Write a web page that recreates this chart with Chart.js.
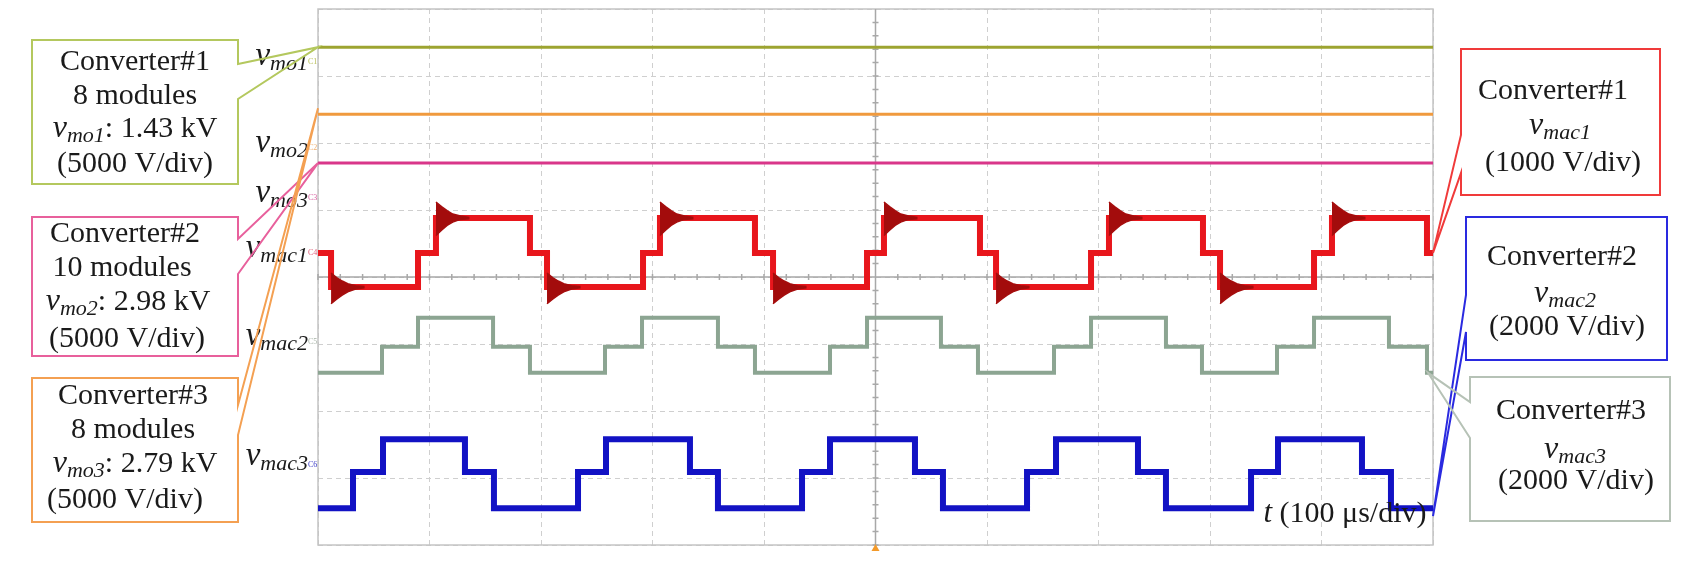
<!DOCTYPE html>
<html>
<head>
<meta charset="utf-8">
<script src="https://cdn.jsdelivr.net/npm/chart.js@4.4.0/dist/chart.umd.min.js"></script>
<style>
  html, body { margin: 0; padding: 0; background: #fff; }
  #wrap { width: 1700px; height: 566px; }
</style>
</head>
<body>
<div id="wrap"><canvas id="scope" width="1700" height="566"></canvas></div>
<script>
// time in µs (100 µs/div), vertical position in screen divisions (8 div, centre = 0)
const timeRange = [0, 1000];
const divRange = [-4, 4];

// dc-link module voltages: flat traces
const dcNames = ["vmo1", "vmo2", "vmo3"];
const dcLevels = [3.43, 2.43, 1.70];

// vmac1 (red): switching instants and level after each one (first value = level at t=0)
const mac1Edges = [11.7, 89.7, 105.8, 190.1, 205.4, 291.5, 306.7, 391.9, 408.1, 492.4,
  507.6, 593.7, 608.1, 693.3, 709.4, 793.7, 809.0, 893.3, 909.4, 994.6];
const mac1Values = [0.36, -0.15, 0.36, 0.88, 0.36, -0.15, 0.36, 0.88, 0.36, -0.15, 0.36,
  0.88, 0.36, -0.15, 0.36, 0.88, 0.36, -0.15, 0.36, 0.88, 0.36];

// vmac2 (grey-green)
const mac2Edges = [57.4, 89.7, 157.0, 190.1, 257.4, 290.6, 358.7, 391.9, 459.2, 492.4,
  558.7, 591.9, 660.1, 693.3, 760.5, 792.8, 860.1, 893.3, 960.5, 994.6];
const mac2Values = [-1.43, -1.04, -0.61, -1.04, -1.43, -1.04, -0.61, -1.04, -1.43, -1.04, -0.61,
  -1.04, -1.43, -1.04, -0.61, -1.04, -1.43, -1.04, -0.61, -1.04, -1.43];

// vmac3 (blue)
const mac3Edges = [31.4, 58.3, 131.8, 157.8, 233.2, 258.3, 333.6, 358.7, 434.1, 459.2,
  535.4, 560.5, 635.9, 661.9, 735.4, 760.5, 836.8, 861.0, 936.3, 962.3];
const mac3Values = [-3.45, -2.91, -2.42, -2.91, -3.45, -2.91, -2.42, -2.91, -3.45, -2.91, -2.42,
  -2.91, -3.45, -2.91, -2.42, -2.91, -3.45, -2.91, -2.42, -2.91, -3.45];

// ringing on vmac1 after steps to the top / bottom level
const ringRiseTimes = [105.8, 306.7, 507.6, 709.4, 909.4];
const ringFallTimes = [11.7, 205.4, 408.1, 608.1, 809.0];
const ringOffsets = [0, 5, 10, 15, 22, 30];
const riseRingTop = [1.12, 1.05, 0.99, 0.94, 0.91, 0.89];
const riseRingBottom = [0.62, 0.70, 0.77, 0.82, 0.86, 0.87];
const fallRingTop = [0.06, -0.01, -0.06, -0.10, -0.13, -0.14];
const fallRingBottom = [-0.40, -0.33, -0.27, -0.22, -0.18, -0.16];

const SERIF = '"Liberation Serif", "DejaVu Serif", serif';

function stepPoints(edges, values) {
  const pts = [{ x: timeRange[0], y: values[0] }];
  edges.forEach((t, i) => pts.push({ x: t, y: values[i + 1] }));
  pts.push({ x: timeRange[1], y: values[values.length - 1] });
  return pts;
}

function ringSets(times, top, bottom) {
  const sets = [];
  times.forEach((t) => {
    const upper = ringOffsets.map((o, i) => ({ x: t + o, y: top[i] }));
    const lower = ringOffsets.map((o, i) => ({ x: t + o, y: bottom[i] }));
    sets.push({ data: upper, borderColor: "#a50d0d", borderWidth: 1.5, pointRadius: 0, fill: false });
    sets.push({ data: lower, borderColor: "#a50d0d", borderWidth: 1.5, pointRadius: 0,
      fill: "-1", backgroundColor: "#a30c0c" });
  });
  return sets;
}

const dcColors = ["#9da431", "#f09a3e", "#d9368a"];

const datasets = [
  ...ringSets(ringRiseTimes, riseRingTop, riseRingBottom),
  ...ringSets(ringFallTimes, fallRingTop, fallRingBottom),
  { data: stepPoints(mac1Edges, mac1Values), stepped: "before", borderColor: "#e8161c", borderWidth: 6, pointRadius: 0 },
  { data: stepPoints(mac2Edges, mac2Values), stepped: "before", borderColor: "#8ca592", borderWidth: 4, pointRadius: 0 },
  { data: stepPoints(mac3Edges, mac3Values), stepped: "before", borderColor: "#1212c4", borderWidth: 6, pointRadius: 0 },
  ...dcLevels.map((lv, i) => ({
    label: dcNames[i],
    data: [{ x: timeRange[0], y: lv }, { x: timeRange[1], y: lv }],
    borderColor: dcColors[i], borderWidth: 3, pointRadius: 0,
  })),
];

function drawRuns(ctx, runs, cx, cy, align) {
  let total = 0;
  runs.forEach((r) => { ctx.font = r[1]; total += ctx.measureText(r[0]).width; });
  let x = align === "right" ? cx - total : cx - total / 2;
  ctx.textBaseline = "middle";
  ctx.textAlign = "left";
  runs.forEach((r) => {
    ctx.font = r[1];
    ctx.fillText(r[0], x, cy + (r[2] || 0));
    x += ctx.measureText(r[0]).width;
  });
}

function vSym(sub, size) {
  return [["v", "italic " + size + "px " + SERIF, 0], [sub, "italic " + Math.round(size * 0.68) + "px " + SERIF, size * 0.24]];
}

function callout(ctx, b) {
  ctx.save();
  ctx.fillStyle = "#fff";
  ctx.fillRect(b.x0, b.y0, b.x1 - b.x0, b.y1 - b.y0);
  ctx.strokeStyle = b.color;
  ctx.lineWidth = 2;
  ctx.beginPath();
  if (b.side === "right") {
    ctx.moveTo(b.x0, b.y0); ctx.lineTo(b.x1, b.y0); ctx.lineTo(b.x1, b.g0);
    ctx.lineTo(b.tip[0], b.tip[1]); ctx.lineTo(b.x1, b.g1); ctx.lineTo(b.x1, b.y1); ctx.lineTo(b.x0, b.y1);
  } else {
    ctx.moveTo(b.x0, b.y0); ctx.lineTo(b.x1, b.y0); ctx.lineTo(b.x1, b.y1); ctx.lineTo(b.x0, b.y1);
    ctx.lineTo(b.x0, b.g1); ctx.lineTo(b.tip[0], b.tip[1]); ctx.lineTo(b.x0, b.g0);
  }
  ctx.closePath();
  ctx.stroke();
  ctx.fillStyle = "#1a1a1a";
  b.lines.forEach((ln) => drawRuns(ctx, ln.runs, ln.x, ln.y));
  ctx.restore();
}

const scopeDecor = {
  id: "scopeDecor",
  beforeDatasetsDraw(chart) {
    const { ctx, chartArea: a, scales: { x, y } } = chart;
    ctx.save();
    ctx.strokeStyle = "#c4c4c4";
    ctx.lineWidth = 1.5;
    ctx.strokeRect(a.left, a.top, a.right - a.left, a.bottom - a.top);
    // centre cross with minor ticks
    const cx = x.getPixelForValue(500), cy = y.getPixelForValue(0);
    ctx.strokeStyle = "#a8a8a8";
    ctx.lineWidth = 1.5;
    ctx.beginPath();
    ctx.moveTo(cx, a.top); ctx.lineTo(cx, a.bottom);
    ctx.moveTo(a.left, cy); ctx.lineTo(a.right, cy);
    for (let t = 0; t <= 1000; t += 20) {
      const px = x.getPixelForValue(t);
      ctx.moveTo(px, cy - 3); ctx.lineTo(px, cy + 3);
    }
    for (let d = -4; d <= 4; d += 0.2) {
      const py = y.getPixelForValue(d);
      ctx.moveTo(cx - 3, py); ctx.lineTo(cx + 3, py);
    }
    ctx.stroke();
    ctx.restore();
  },
  afterDraw(chart) {
    const { ctx, chartArea: a, scales: { x, y } } = chart;
    ctx.save();
    // trigger marker
    const tx = x.getPixelForValue(500);
    ctx.fillStyle = "#f39a2a";
    ctx.beginPath();
    ctx.moveTo(tx, a.bottom - 1); ctx.lineTo(tx - 4, a.bottom + 6); ctx.lineTo(tx + 4, a.bottom + 6);
    ctx.closePath(); ctx.fill();

    // trace names on the left of the screen
    ctx.fillStyle = "#1a1a1a";
    const names = [["mo1", 56], ["mo2", 143], ["mo3", 193], ["mac1", 248], ["mac2", 336], ["mac3", 456]];
    names.forEach((n) => drawRuns(ctx, vSym(n[0], 33), a.left - 10, n[1], "right"));
    const marks = [["C1", 62, "#b9c05a"], ["C2", 148, "#f0b070"], ["C3", 198, "#d860a0"],
      ["C4", 253, "#e0607a"], ["C5", 342, "#a8b4a8"], ["C6", 465, "#4040c8"]];
    ctx.font = "8px " + SERIF;
    marks.forEach((m) => { ctx.fillStyle = m[2]; ctx.fillText(m[0], a.left - 10, m[1]); });

    const lft = a.left, rgt = a.right;
    const body = "30px " + SERIF;
    callout(ctx, { side: "right", x0: 32, x1: 238, y0: 40, y1: 184, g0: 64, g1: 99,
      tip: [lft, y.getPixelForValue(dcLevels[0])], color: "#b4c85e",
      lines: [
        { runs: [["Converter#1", body]], x: 135, y: 62 },
        { runs: [["8 modules", body]], x: 135, y: 96 },
        { runs: [...vSym("mo1", 32), [": 1.43 kV", body]], x: 135, y: 129 },
        { runs: [["(5000 V/div)", body]], x: 135, y: 164 },
      ] });
    callout(ctx, { side: "right", x0: 32, x1: 238, y0: 217, y1: 356, g0: 239, g1: 274,
      tip: [lft, y.getPixelForValue(dcLevels[2])], color: "#e8609c",
      lines: [
        { runs: [["Converter#2", body]], x: 125, y: 234 },
        { runs: [["10 modules", body]], x: 122, y: 268 },
        { runs: [...vSym("mo2", 32), [": 2.98 kV", body]], x: 128, y: 302 },
        { runs: [["(5000 V/div)", body]], x: 127, y: 339 },
      ] });
    callout(ctx, { side: "right", x0: 32, x1: 238, y0: 378, y1: 522, g0: 405, g1: 435,
      tip: [lft, y.getPixelForValue(dcLevels[1]) - 6], color: "#f4a052",
      lines: [
        { runs: [["Converter#3", body]], x: 133, y: 396 },
        { runs: [["8 modules", body]], x: 133, y: 430 },
        { runs: [...vSym("mo3", 32), [": 2.79 kV", body]], x: 135, y: 464 },
        { runs: [["(5000 V/div)", body]], x: 125, y: 500 },
      ] });
    callout(ctx, { side: "left", x0: 1461, x1: 1660, y0: 49, y1: 195, g0: 135, g1: 173,
      tip: [rgt, y.getPixelForValue(mac1Values[mac1Values.length - 1])], color: "#f03a3a",
      lines: [
        { runs: [["Converter#1", body]], x: 1553, y: 91 },
        { runs: vSym("mac1", 32), x: 1560, y: 126 },
        { runs: [["(1000 V/div)", body]], x: 1563, y: 163 },
      ] });
    callout(ctx, { side: "left", x0: 1466, x1: 1667, y0: 217, y1: 360, g0: 295, g1: 332,
      tip: [rgt, y.getPixelForValue(mac3Values[mac3Values.length - 1]) + 8], color: "#2a2ae0",
      lines: [
        { runs: [["Converter#2", body]], x: 1562, y: 257 },
        { runs: vSym("mac2", 32), x: 1565, y: 294 },
        { runs: [["(2000 V/div)", body]], x: 1567, y: 327 },
      ] });
    callout(ctx, { side: "left", x0: 1470, x1: 1670, y0: 377, y1: 521, g0: 402, g1: 438,
      tip: [rgt - 5, y.getPixelForValue(mac2Values[mac2Values.length - 1])], color: "#b6c2b6",
      lines: [
        { runs: [["Converter#3", body]], x: 1571, y: 411 },
        { runs: vSym("mac3", 32), x: 1575, y: 450 },
        { runs: [["(2000 V/div)", body]], x: 1576, y: 481 },
      ] });

    // time base label
    ctx.fillStyle = "#1a1a1a";
    drawRuns(ctx, [["t", "italic 31px " + SERIF], [" (100 μs/div)", body]], 1345, 514);
    ctx.restore();
  },
};

new Chart(document.getElementById("scope"), {
  type: "line",
  data: { datasets },
  options: {
    responsive: false,
    animation: false,
    parsing: false,
    layout: { padding: { left: 318, right: 267, top: 9, bottom: 21 } },
    plugins: { legend: { display: false }, tooltip: { enabled: false } },
    elements: { line: { tension: 0 } },
    scales: {
      x: {
        type: "linear", min: timeRange[0], max: timeRange[1],
        ticks: { display: false, stepSize: 100 },
        grid: { color: "#cfcfcf", lineWidth: 1, drawTicks: false },
        border: { display: false, dash: [5, 4] },
      },
      y: {
        type: "linear", min: divRange[0], max: divRange[1],
        ticks: { display: false, stepSize: 1 },
        grid: { color: "#cfcfcf", lineWidth: 1, drawTicks: false },
        border: { display: false, dash: [5, 4] },
      },
    },
  },
  plugins: [scopeDecor],
});
</script>
</body>
</html>
